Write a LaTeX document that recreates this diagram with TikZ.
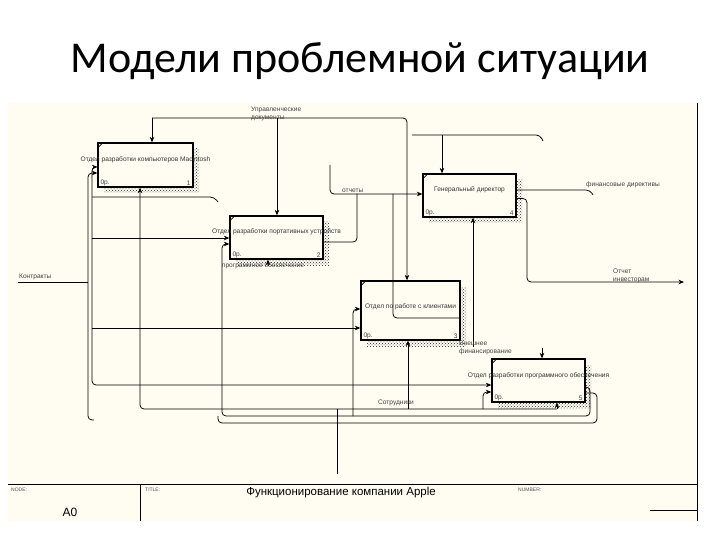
\documentclass[tikz,border=0pt]{standalone}
\usepackage{fontspec}
\setmainfont{Carlito}
\newfontfamily\idef{Liberation Sans}
\usetikzlibrary{positioning,arrows.meta,patterns}
\definecolor{paper}{RGB}{255,253,242}

\begin{document}
\begin{tikzpicture}[
  x=1pt, y=-1pt,
  lbl/.style={font=\idef\fontsize{6.6}{7.6}\selectfont, text=black!75, inner sep=1pt},
  fbox/.style 2 args={draw, line width=1.3pt, fill=paper, minimum width=#1, minimum height=#2, inner sep=0pt,
    preaction={draw=none, pattern=crosshatch dots, pattern color=black!85, transform canvas={shift={(6pt,-6pt)}}}},
  boxlbl/.style={lbl, text=black!80},
  blk/.style={font=\idef\fontsize{5}{6}\selectfont, text=black!70, inner sep=1pt},
  wire/.style={line width=0.75pt, rounded corners=4},
  >={Stealth[length=5.5pt,width=4.5pt]}
]
\useasboundingbox (0,0) rectangle (720,540);

% Slide title
\node[font=\fontsize{44}{52}\selectfont] (title) at (360,61) {Модели проблемной ситуации};

% Diagram sheet
\fill[paper] (8,103) rectangle (697,521);
\draw[line width=0.8pt] (697,103) -- (697,521);
\draw[line width=0.8pt] (8,484) -- (697,484);
\draw[line width=0.8pt] (140,484) -- (140,521);
\draw[line width=0.8pt] (650,510) -- (697,510);

% Activity boxes
\node[fbox={95pt}{44pt}] (macdev) at (145.5,165) {};
\node[fbox={93pt}{43pt}] (mobdev) at (276.5,237.5) {};
\node[fbox={99pt}{59pt}] (clients) at (410.5,310.5) {};
\node[fbox={93pt}{43pt}] (ceo) at (469.5,195.5) {};
\node[fbox={93pt}{43pt}] (softdev) at (538.5,380.5) {};

\node[boxlbl] (macdevt) at ([yshift=5pt]macdev.center) {Отдел разработки компьютеров Macintosh};
\node[boxlbl] (mobdevt) at ([yshift=5.5pt]mobdev.center) {Отдел разработки портативных устройств};
\node[boxlbl] (clientst) at ([yshift=3.5pt]clients.center) {Отдел по работе с клиентами};
\node[boxlbl] (ceot) at ([yshift=5.5pt]ceo.center) {Генеральный директор};
\node[boxlbl] (softdevt) at ([yshift=4.5pt]softdev.center) {Отдел разработки программного обеспечения};

\foreach \b/\n in {macdev/1, mobdev/2, clients/3, ceo/4, softdev/5} {
  \draw[line width=0.7pt] ([yshift=-6pt]\b.north west) -- ([xshift=6pt]\b.north west);
  \node[lbl, anchor=south west] (\b-op) at ([shift={(2pt,1pt)}]\b.south west) {0р.};
  \node[lbl, anchor=south east] (\b-num) at ([shift={(-2pt,1pt)}]\b.south east) {\n};
}

% Control: management documents
\coordinate (ud0) at (152,118);
\coordinate (ud1) at (407,118);
\coordinate (ud2) at (277,118);
\draw[wire,->] (ud0) -- (ud1) -- (ud1 |- clients.north);
\draw[wire,->] (ud0) -- (ud0 |- macdev.north);
\draw[wire,->] (ud2) -- (ud2 |- mobdev.north);
\node[lbl, anchor=north west, align=left] (udlbl) at (250,106) {Управленческие\\документы};

% Control into the director
\coordinate (dc0) at (412,135);
\coordinate (dc1) at (540,135);
\coordinate (dc2) at (442,135);
\draw[wire] (dc0) -- (dc1) -- ++(3,6);
\draw[wire,->] (dc2) -- (dc2 |- ceo.north);

% Reports
\coordinate (ot0) at (330,165);
\coordinate (ot1) at (330,194);
\coordinate (o2) at (357,242);
\coordinate (o3) at (393,318);
\draw[wire,->] (ot0) -- (ot1) -- (ot1 -| ceo.west);
\draw[wire] (o2 -| mobdev.east) -- (o2) -- (o2 |- ot1);
\draw[wire] (o3 -| clients.east) -- (o3) -- (o3 |- ot1);
\node[lbl, anchor=south west] (otlbl) at (341,194) {отчеты};

% Director outputs
\coordinate (fd) at (590,190);
\coordinate (oi) at (527,282);
\coordinate (oiend) at (684,282);
\draw[wire] (fd -| ceo.east) -- (fd) -- ++(3,5);
\node[lbl, anchor=west] (fdlbl) at (585,185) {финансовые директивы};
\draw[wire,->] ([yshift=-3pt]ceo.east) -| (oi) -- (oiend);
\node[lbl, anchor=south west, align=left] (oilbl) at (612,284) {Отчет\\инвесторам};

% External funding
\coordinate (vf) at (473,347);
\draw[wire,->] (vf) -- (vf |- ceo.south);
\node[lbl, anchor=north west, align=left] (vflbl) at (458,340) {Внешнее\\финансирование};

% Staff (mechanism)
\coordinate (st0) at (337,474);
\coordinate (st1) at (337,409);
\coordinate (stL) at (140,409);
\coordinate (stR) at (557,409);
\coordinate (s3) at (408,409);
\coordinate (s5) at (483,409);
\coordinate (s5b) at (483,392);
\draw[wire] (st0) -- (st1);
\draw[wire,->] (stR) -- (stL) -- (stL |- macdev.south);
\draw[wire,->] (s3) -- (s3 |- clients.south);
\draw[wire,->] (stR) -- (stR |- softdev.south);
\draw[wire,->] (s5) -- (s5b) -- (s5b -| softdev.west);
\node[lbl] (stlbl) at (396,403) {Сотрудники};

% Software fed back from box 5
\coordinate (sw1) at (590,387);
\coordinate (sw2) at (590,416);
\coordinate (sw3) at (222,416);
\coordinate (i2) at (222,244);
\coordinate (s3a) at (353,416);
\coordinate (s3b) at (353,309);
\coordinate (sw4) at (597,393);
\coordinate (sw5) at (597,423);
\coordinate (sw6) at (218,423);
\draw[wire,->] (sw1 -| softdev.east) -- (sw1) -- (sw2) -- (sw3) -- (i2) -- (i2 -| mobdev.west);
\draw[wire,->] (s3a) -- (s3b) -- (s3b -| clients.west);
\draw[wire] (sw4 -| softdev.east) -- (sw4) -- (sw5) -- (sw6) -- ++(0,-7);
\coordinate (po) at (268,266);
\draw[wire,->] (po) -- (po |- mobdev.south);
\node[lbl] (polbl) at (263,266) {программное обеспечение};
\coordinate (c5) at (542,348);
\draw[wire,->] (c5) -- (c5 |- softdev.north);

% Contracts and the left buses
\coordinate (kt0) at (18,282);
\coordinate (kt1) at (88,282);
\coordinate (lb0) at (88,420);
\coordinate (lb1) at (88,173);
\draw[wire] (kt0) -- (kt1);
\node[lbl, anchor=south west] (ktlbl) at (18,281) {Контракты};
\draw[wire,->] ([xshift=6pt]lb0) -- (lb0) -- (lb1) -- (lb1 -| macdev.west);
\coordinate (rb0) at (92,167);
\coordinate (rb1) at (92,385);
\coordinate (r1) at (92,197);
\coordinate (r1e) at (214,197);
\coordinate (r2) at (92,238);
\coordinate (r3) at (92,328);
\draw[wire,<->] (rb0 -| macdev.west) -- (rb0) -- (rb1) -- (rb1 -| softdev.west);
\draw[wire] (r1) -- (r1e) -- ++(4,5);
\draw[wire,->] (r2) -- (r2 -| mobdev.west);
\draw[wire,->] (r3) -- (r3 -| clients.west);

% Title block
\node[blk, anchor=north west] (nodelbl) at (10,487) {NODE:};
\node[blk, anchor=north west] (titlelbl) at (144,487) {TITLE:};
\node[blk, anchor=north west] (numlbl) at (517,487) {NUMBER:};
\node[font=\idef\fontsize{11.5}{13}\selectfont] (fname) at (341,493) {Функционирование компании Apple};
\node[font=\idef\fontsize{12}{14}\selectfont] (a0) at (70,512) {A0};
\end{tikzpicture}
\end{document}
